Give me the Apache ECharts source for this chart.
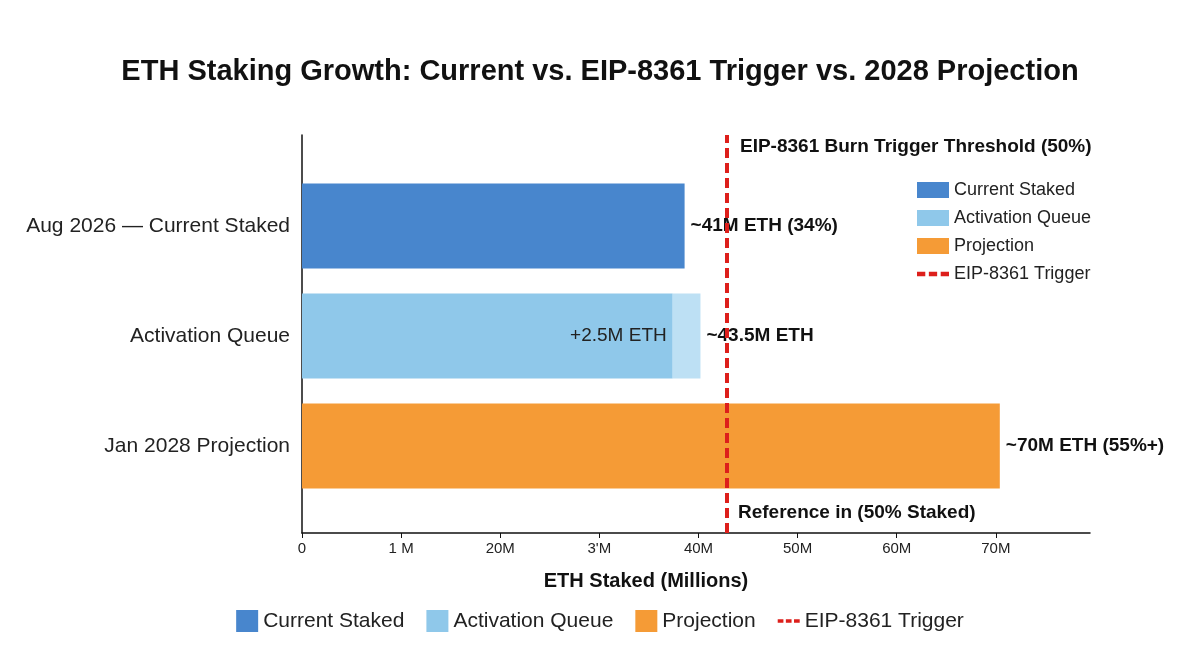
<!DOCTYPE html>
<html lang="en">
<head>
<meta charset="UTF-8">
<title>ETH Staking Growth</title>
<script src="https://cdn.jsdelivr.net/npm/echarts@6/dist/echarts.min.js"></script>
</head>
<body style="margin:0;background:#fff">
<div id="main" style="width:1200px;height:670px;"></div>
<script>
// data
var categories = ['Jan 2028 Projection', 'Activation Queue', 'Aug 2026 \u2014 Current Staked'];
var currentVals = [null, null, 38.6];
var queueBase = [null, 37.4, null];
var queueAdd = [null, 2.8, null];
var projectionVals = [70.4, null, null];
var endLabels = ['~70M ETH (55%+)', '~43.5M ETH', '~41M ETH (34%)'];
var triggerValue = 42.9;
var tickLabels = {0: '0', 10: '1 M', 20: '20M', 30: '3\'M', 40: '40M', 50: '50M', 60: '60M', 70: '70M'};

var font = '"Liberation Sans", Arial, sans-serif';
var C_CUR = '#4886cd', C_Q = '#8fc8ea', C_Q2 = '#bde0f4', C_P = '#f59b36', C_R = '#dd1f1b';

function endLabel(i) {
    return {show: true, position: 'right', distance: 6, color: '#111', fontWeight: 'bold',
        fontSize: 19, fontFamily: font, formatter: function () { return endLabels[i]; }};
}

var chart = echarts.init(document.getElementById('main'));
var legendData = [
    {name: 'Current Staked', icon: 'rect'}, {name: 'Activation Queue', icon: 'rect'}, {name: 'Projection', icon: 'rect'},
    {name: 'EIP-8361 Trigger', icon: 'path://M0,0h7v4H0z M10,0h7v4h-7z M20,0h7v4h-7z'}
];
chart.setOption({
    animation: false,
    title: {text: 'ETH Staking Growth: Current vs. EIP-8361 Trigger vs. 2028 Projection',
        left: 'center', top: 52, textStyle: {fontSize: 29, fontWeight: 'bold', color: '#111', fontFamily: font}},
    legend: [
        {data: legendData, orient: 'vertical', left: 912, top: 176, itemWidth: 32, itemHeight: 16, itemGap: 10,
            textStyle: {fontSize: 18, color: '#222', fontFamily: font}},
        {data: legendData, orient: 'horizontal', left: 'center', top: 605, itemWidth: 22, itemHeight: 22, itemGap: 22,
            textStyle: {fontSize: 21, color: '#222', fontFamily: font}}
    ],
    grid: [
        {left: 302, right: 110, top: 171, height: 330},
        {left: 302, right: 110, top: 135, height: 398}
    ],
    xAxis: [
        {gridIndex: 0, type: 'value', min: 0, max: 79.5, show: false},
        {gridIndex: 1, type: 'value', min: 0, max: 79.5, interval: 10,
            axisLine: {show: true, lineStyle: {color: '#111', width: 1.5}},
            axisTick: {show: true, length: 5, lineStyle: {color: '#111'}},
            splitLine: {show: false},
            axisLabel: {fontSize: 15, color: '#222', fontFamily: font, showMaxLabel: false,
                formatter: function (v) { return tickLabels[v] !== undefined ? tickLabels[v] : ''; }},
            name: 'ETH Staked (Millions)', nameLocation: 'middle', nameGap: 38,
            nameTextStyle: {fontSize: 20, fontWeight: 'bold', color: '#111', fontFamily: font, padding: [0, 0, 0, -100]}}
    ],
    yAxis: [
        {gridIndex: 0, type: 'category', data: categories, axisLine: {show: false}, axisTick: {show: false},
            axisLabel: {fontSize: 21, color: '#222', fontFamily: font, margin: 12}},
        {gridIndex: 1, type: 'value', min: 0, max: 1, axisLabel: {show: false}, splitLine: {show: false},
            axisLine: {show: true, lineStyle: {color: '#111', width: 1.5}}, axisTick: {show: false}}
    ],
    series: [
        {name: 'Current Staked', type: 'bar', xAxisIndex: 0, yAxisIndex: 0, stack: 's', barWidth: 85,
            data: currentVals, itemStyle: {color: C_CUR}, label: endLabel(2)},
        {name: 'Activation Queue', type: 'bar', xAxisIndex: 0, yAxisIndex: 0, stack: 's', barWidth: 85,
            data: queueBase, itemStyle: {color: C_Q},
            label: {show: true, position: 'insideRight', distance: 6, color: '#222', fontSize: 19,
                fontFamily: font, formatter: '+2.5M ETH'}},
        {name: 'Activation Queue', type: 'bar', xAxisIndex: 0, yAxisIndex: 0, stack: 's', barWidth: 85,
            data: queueAdd, itemStyle: {color: C_Q2}, label: endLabel(1)},
        {name: 'Projection', type: 'bar', xAxisIndex: 0, yAxisIndex: 0, stack: 's', barWidth: 85,
            data: projectionVals, itemStyle: {color: C_P}, label: endLabel(0)},
        {name: 'EIP-8361 Trigger', type: 'line', xAxisIndex: 1, yAxisIndex: 1, data: [],
            itemStyle: {color: C_R}, lineStyle: {color: C_R, type: 'dashed', width: 4},
            markLine: {symbol: 'none', silent: true, label: {show: false},
                lineStyle: {color: C_R, type: [10, 5], width: 4},
                data: [{xAxis: triggerValue}]}}
    ],
    graphic: [
        {type: 'text', left: 740, top: 137, style: {text: 'EIP-8361 Burn Trigger Threshold (50%)',
            fontSize: 19, fontWeight: 'bold', fill: '#111', fontFamily: font}},
        {type: 'text', left: 738, top: 503, style: {text: 'Reference in (50% Staked)',
            fontSize: 19, fontWeight: 'bold', fill: '#111', fontFamily: font}}
    ]
});
</script>
</body>
</html>
